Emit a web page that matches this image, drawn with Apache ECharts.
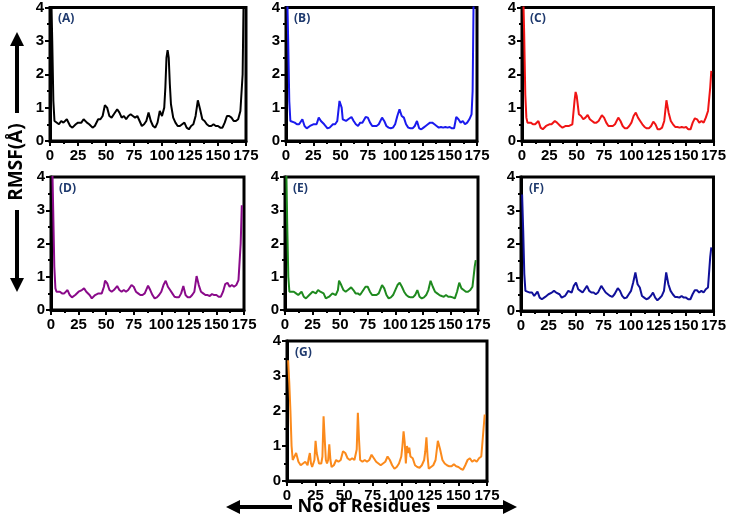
<!DOCTYPE html>
<html>
<head>
<meta charset="utf-8">
<title>RMSF</title>
<script src="https://cdn.jsdelivr.net/npm/echarts@6/dist/echarts.min.js"></script>
<style>
  html, body { margin: 0; padding: 0; background: #fff; }
  #chart { width: 729px; height: 527px; }
</style>
</head>
<body>
<div id="chart"></div>
<script>
// RMSF per residue, [residue, value] pairs
var rmsfA = [[1,4.6],[2,3.0],[3,1.2],[4,0.6],[5,0.55],[8,0.5],[10,0.6],[12,0.55],[15,0.65],[18,0.45],[20,0.4],[23,0.5],[25,0.55],[28,0.55],[30,0.65],[33,0.55],[35,0.5],[38,0.4],[40,0.45],[43,0.65],[45,0.65],[47,0.75],[49,1.07],[51,1.0],[53,0.75],[55,0.7],[57,0.8],[60,0.95],[62,0.85],[64,0.7],[66,0.75],[68,0.65],[70,0.75],[72,0.8],[74,0.75],[76,0.7],[78,0.75],[80,0.6],[82,0.45],[84,0.5],[86,0.6],[88,0.85],[90,0.6],[92,0.45],[94,0.4],[96,0.55],[98,0.9],[100,0.75],[102,1.0],[103,1.6],[104,2.5],[105,2.72],[106,2.5],[107,1.7],[108,1.1],[110,0.7],[112,0.55],[114,0.45],[116,0.45],[118,0.5],[120,0.55],[122,0.4],[124,0.35],[126,0.45],[128,0.5],[130,0.75],[132,1.22],[134,0.95],[136,0.65],[138,0.6],[140,0.5],[142,0.45],[144,0.45],[146,0.5],[148,0.45],[150,0.45],[152,0.4],[154,0.4],[156,0.55],[158,0.75],[160,0.75],[162,0.7],[164,0.6],[166,0.6],[168,0.65],[170,0.9],[172,2.0],[173,4.6]];
var rmsfB = [[1,4.6],[2,3.0],[3,1.2],[4,0.6],[5,0.55],[8,0.55],[10,0.5],[12,0.5],[15,0.65],[17,0.45],[19,0.38],[22,0.45],[25,0.5],[28,0.5],[30,0.7],[32,0.6],[35,0.5],[38,0.38],[40,0.4],[43,0.5],[45,0.5],[47,0.6],[49,1.2],[51,1.0],[52,0.65],[55,0.6],[57,0.65],[60,0.72],[62,0.6],[64,0.5],[66,0.45],[68,0.55],[70,0.55],[73,0.72],[75,0.7],[77,0.55],[79,0.45],[81,0.45],[83,0.45],[85,0.5],[88,0.7],[90,0.6],[92,0.45],[94,0.4],[96,0.38],[98,0.4],[100,0.5],[102,0.75],[104,0.95],[106,0.75],[108,0.7],[110,0.5],[112,0.4],[114,0.38],[116,0.38],[118,0.45],[120,0.6],[122,0.38],[124,0.35],[126,0.4],[128,0.45],[130,0.5],[132,0.55],[134,0.55],[136,0.5],[138,0.45],[140,0.4],[142,0.42],[144,0.4],[146,0.42],[148,0.4],[150,0.42],[152,0.38],[154,0.38],[156,0.72],[158,0.65],[160,0.55],[162,0.6],[164,0.5],[166,0.55],[168,0.65],[170,0.8],[171,1.5],[172,4.6]];
var rmsfC = [[1,4.6],[2,3.2],[3,1.4],[4,0.7],[5,0.55],[8,0.55],[10,0.5],[12,0.5],[15,0.6],[17,0.4],[19,0.35],[22,0.45],[25,0.5],[27,0.5],[30,0.6],[32,0.55],[35,0.45],[37,0.4],[40,0.45],[43,0.45],[46,0.5],[48,1.2],[49,1.47],[50,1.35],[52,0.8],[54,0.75],[56,0.65],[58,0.7],[60,0.78],[62,0.65],[64,0.6],[66,0.55],[68,0.55],[70,0.6],[73,0.77],[75,0.7],[77,0.55],[79,0.45],[81,0.45],[83,0.45],[85,0.5],[88,0.7],[90,0.6],[92,0.45],[94,0.38],[96,0.38],[98,0.45],[100,0.55],[102,0.75],[104,0.85],[106,0.7],[108,0.6],[110,0.5],[112,0.42],[114,0.38],[116,0.38],[118,0.45],[120,0.58],[122,0.5],[124,0.35],[126,0.35],[128,0.4],[130,0.6],[132,1.22],[134,0.85],[136,0.6],[138,0.5],[140,0.42],[142,0.42],[144,0.4],[146,0.42],[148,0.4],[150,0.42],[152,0.35],[154,0.35],[156,0.55],[158,0.68],[160,0.65],[162,0.55],[164,0.6],[166,0.55],[168,0.7],[170,0.9],[172,1.6],[173,2.1]];
var rmsfD = [[1,4.6],[2,3.0],[3,1.3],[4,0.65],[5,0.55],[8,0.55],[10,0.5],[12,0.5],[15,0.6],[17,0.45],[19,0.38],[22,0.45],[25,0.55],[28,0.6],[30,0.65],[32,0.55],[35,0.45],[37,0.35],[40,0.45],[43,0.5],[46,0.5],[48,0.7],[49,0.88],[51,0.8],[53,0.6],[55,0.55],[57,0.6],[60,0.72],[62,0.6],[64,0.55],[66,0.6],[68,0.55],[70,0.6],[73,0.75],[75,0.7],[77,0.55],[79,0.5],[81,0.45],[83,0.45],[85,0.5],[88,0.73],[90,0.6],[92,0.45],[94,0.35],[96,0.38],[98,0.45],[100,0.55],[102,0.75],[104,0.88],[106,0.7],[108,0.6],[110,0.5],[112,0.4],[114,0.38],[116,0.38],[118,0.5],[120,0.72],[122,0.45],[124,0.38],[126,0.38],[128,0.45],[130,0.55],[132,1.02],[134,0.75],[136,0.55],[138,0.5],[140,0.45],[142,0.45],[144,0.42],[146,0.48],[148,0.45],[150,0.45],[152,0.4],[154,0.4],[156,0.55],[158,0.78],[160,0.82],[162,0.7],[164,0.75],[166,0.7],[168,0.75],[170,0.9],[172,2.0],[173,3.15]];
var rmsfE = [[1,4.6],[2,2.6],[3,1.0],[4,0.55],[5,0.55],[8,0.55],[10,0.5],[12,0.45],[15,0.55],[17,0.4],[19,0.35],[22,0.45],[25,0.55],[28,0.5],[30,0.6],[32,0.55],[35,0.5],[37,0.35],[40,0.4],[43,0.5],[46,0.45],[48,0.6],[49,0.88],[51,0.75],[53,0.6],[55,0.55],[57,0.6],[60,0.68],[62,0.6],[64,0.5],[66,0.5],[68,0.45],[70,0.55],[73,0.7],[75,0.7],[77,0.55],[79,0.45],[81,0.45],[83,0.45],[85,0.5],[88,0.75],[90,0.65],[92,0.45],[94,0.35],[96,0.38],[98,0.45],[100,0.6],[102,0.75],[104,0.82],[106,0.7],[108,0.55],[110,0.45],[112,0.4],[114,0.38],[116,0.38],[118,0.45],[120,0.6],[122,0.4],[124,0.35],[126,0.38],[128,0.45],[130,0.6],[132,0.88],[134,0.7],[136,0.55],[138,0.5],[140,0.45],[142,0.42],[144,0.4],[146,0.45],[148,0.4],[150,0.4],[152,0.38],[154,0.35],[156,0.55],[158,0.82],[160,0.65],[162,0.6],[164,0.55],[166,0.55],[168,0.6],[170,0.7],[172,1.3],[173,1.5]];
var rmsfF = [[1,3.48],[2,2.4],[3,1.1],[4,0.6],[5,0.55],[8,0.55],[10,0.55],[12,0.45],[15,0.58],[17,0.4],[19,0.35],[22,0.42],[25,0.5],[28,0.55],[30,0.6],[32,0.55],[35,0.5],[37,0.4],[40,0.45],[43,0.6],[46,0.55],[48,0.75],[50,0.85],[52,0.65],[54,0.6],[56,0.55],[58,0.65],[60,0.75],[62,0.6],[64,0.55],[66,0.55],[68,0.5],[70,0.55],[73,0.75],[75,0.65],[77,0.55],[79,0.5],[81,0.45],[83,0.42],[85,0.5],[88,0.68],[90,0.6],[92,0.45],[94,0.38],[96,0.4],[98,0.5],[100,0.6],[102,0.85],[104,1.15],[106,0.8],[108,0.7],[110,0.45],[112,0.4],[114,0.35],[116,0.38],[118,0.45],[120,0.55],[122,0.4],[124,0.32],[126,0.38],[128,0.45],[130,0.6],[132,1.15],[134,0.8],[136,0.6],[138,0.5],[140,0.42],[142,0.42],[144,0.4],[146,0.45],[148,0.4],[150,0.4],[152,0.35],[154,0.35],[156,0.5],[158,0.62],[160,0.62],[162,0.55],[164,0.6],[166,0.55],[168,0.65],[170,0.7],[172,1.6],[173,1.9]];
var rmsfG = [[1,3.45],[2,2.8],[3,2.0],[4,1.0],[5,0.6],[6,0.55],[8,0.8],[10,0.55],[12,0.45],[14,0.5],[16,0.55],[18,0.45],[19,0.65],[20,0.8],[21,0.5],[22,0.4],[24,0.6],[25,1.15],[26,0.8],[28,0.5],[30,0.5],[31,0.7],[32,1.85],[33,1.2],[34,0.6],[35,0.5],[36,0.6],[37,1.05],[38,0.6],[39,0.4],[41,0.45],[43,0.6],[45,0.55],[47,0.6],[49,0.85],[51,0.8],[53,0.65],[55,0.6],[57,0.65],[59,0.6],[61,0.9],[62,1.95],[63,1.2],[64,0.6],[66,0.55],[68,0.6],[70,0.55],[72,0.6],[74,0.75],[76,0.65],[78,0.55],[80,0.5],[82,0.45],[84,0.5],[86,0.55],[88,0.7],[90,0.6],[92,0.45],[94,0.35],[96,0.4],[98,0.5],[100,0.7],[101,1.0],[102,1.42],[103,1.1],[104,0.5],[105,1.0],[106,0.8],[107,0.95],[108,0.7],[110,0.65],[112,0.45],[114,0.4],[116,0.38],[118,0.45],[120,0.6],[121,0.85],[122,1.25],[123,0.7],[124,0.35],[126,0.4],[128,0.45],[130,0.6],[132,1.15],[134,0.9],[136,0.6],[138,0.5],[140,0.45],[142,0.42],[144,0.42],[146,0.48],[148,0.42],[150,0.4],[152,0.35],[154,0.32],[156,0.45],[158,0.6],[160,0.65],[162,0.55],[164,0.6],[166,0.55],[168,0.65],[170,0.7],[172,1.5],[173,1.9]];

var panelNames = ['(A)', '(B)', '(C)', '(D)', '(E)', '(F)', '(G)'];
var panelData = [rmsfA, rmsfB, rmsfC, rmsfD, rmsfE, rmsfF, rmsfG];
var panelColors = ['#000000', '#1a1aee', '#f01414', '#8a0a8a', '#1f8a1f', '#10109a', '#fb8a1c'];

// plot boxes, px
var boxes = [
  { left: 50, top: 7, width: 196, height: 134 },
  { left: 286, top: 7, width: 191, height: 134 },
  { left: 522, top: 7, width: 195, height: 134 },
  { left: 51, top: 177, width: 193, height: 133 },
  { left: 285, top: 177, width: 193, height: 133 },
  { left: 521, top: 177, width: 196, height: 134 },
  { left: 287, top: 341, width: 200, height: 140 }
]

var tickFont = { fontFamily: 'Liberation Sans', fontWeight: 'bold', fontSize: 15, color: '#000' }
var titleFont = 'Open Sans'

var chart = echarts.init(document.getElementById('chart'))

var grids = [], xAxes = [], yAxes = [], series = [], graphics = []
panelData.forEach(function (d, i) {
  var b = boxes[i]
  grids.push({
    left: b.left, top: b.top, width: b.width, height: b.height,
    show: true, borderColor: '#000', borderWidth: 3, backgroundColor: 'transparent'
  })
  xAxes.push({
    type: 'value', gridIndex: i, min: 0, max: 175, interval: 25,
    axisLine: { lineStyle: { color: '#000', width: 3 } },
    axisTick: { show: true, length: 5, lineStyle: { color: '#000', width: 2 } },
    minorTick: { show: true, splitNumber: 2, length: 3, lineStyle: { color: '#000', width: 2 } },
    splitLine: { show: false },
    axisLabel: Object.assign({ margin: 7, showMaxLabel: true }, tickFont)
  })
  yAxes.push({
    type: 'value', gridIndex: i, min: 0, max: 4, interval: 1,
    axisLine: { show: true, lineStyle: { color: '#000', width: 3 } },
    axisTick: { show: true, length: 5, lineStyle: { color: '#000', width: 2 } },
    minorTick: { show: true, splitNumber: 2, length: 3, lineStyle: { color: '#000', width: 2 } },
    splitLine: { show: false },
    axisLabel: Object.assign({ margin: 6 }, tickFont)
  })
  series.push({
    type: 'line', xAxisIndex: i, yAxisIndex: i, data: d,
    showSymbol: false, clip: true, silent: true,
    lineStyle: { color: panelColors[i], width: 2 },
    itemStyle: { color: panelColors[i] }
  })
  // panel letter
  graphics.push({
    type: 'text', left: b.left + 8, top: b.top + 6, z: 10,
    style: { text: panelNames[i], fill: '#1f3a6e', font: 'bold 12px "' + titleFont + '"' }
  })
})

// y title with arrows
graphics.push(
  { type: 'line', shape: { x1: 17, y1: 113, x2: 17, y2: 44 }, style: { stroke: '#000', lineWidth: 4 } },
  { type: 'polygon', shape: { points: [[10, 46], [24, 46], [17, 32]] }, style: { fill: '#000' } },
  { type: 'text', x: 17, y: 162, rotation: Math.PI / 2,
    style: { text: 'RMSF(Å)', fill: '#000', font: 'bold 19px "' + titleFont + '"', align: 'center', verticalAlign: 'middle' } },
  { type: 'line', shape: { x1: 17, y1: 210, x2: 17, y2: 280 }, style: { stroke: '#000', lineWidth: 4 } },
  { type: 'polygon', shape: { points: [[10, 278], [24, 278], [17, 292]] }, style: { fill: '#000' } }
)
// x title with arrows
graphics.push(
  { type: 'line', shape: { x1: 292, y1: 507, x2: 238, y2: 507 }, style: { stroke: '#000', lineWidth: 4 } },
  { type: 'polygon', shape: { points: [[240, 500], [240, 514], [226, 507]] }, style: { fill: '#000' } },
  { type: 'text', x: 364, y: 507,
    style: { text: 'No of Residues', fill: '#000', font: 'bold 18px "' + titleFont + '"', align: 'center', verticalAlign: 'middle' } },
  { type: 'line', shape: { x1: 437, y1: 507, x2: 505, y2: 507 }, style: { stroke: '#000', lineWidth: 4 } },
  { type: 'polygon', shape: { points: [[503, 500], [503, 514], [517, 507]] }, style: { fill: '#000' } }
)

chart.setOption({
  backgroundColor: '#fff',
  animation: false,
  grid: grids,
  xAxis: xAxes,
  yAxis: yAxes,
  series: series,
  graphic: graphics
})
</script>
</body>
</html>
